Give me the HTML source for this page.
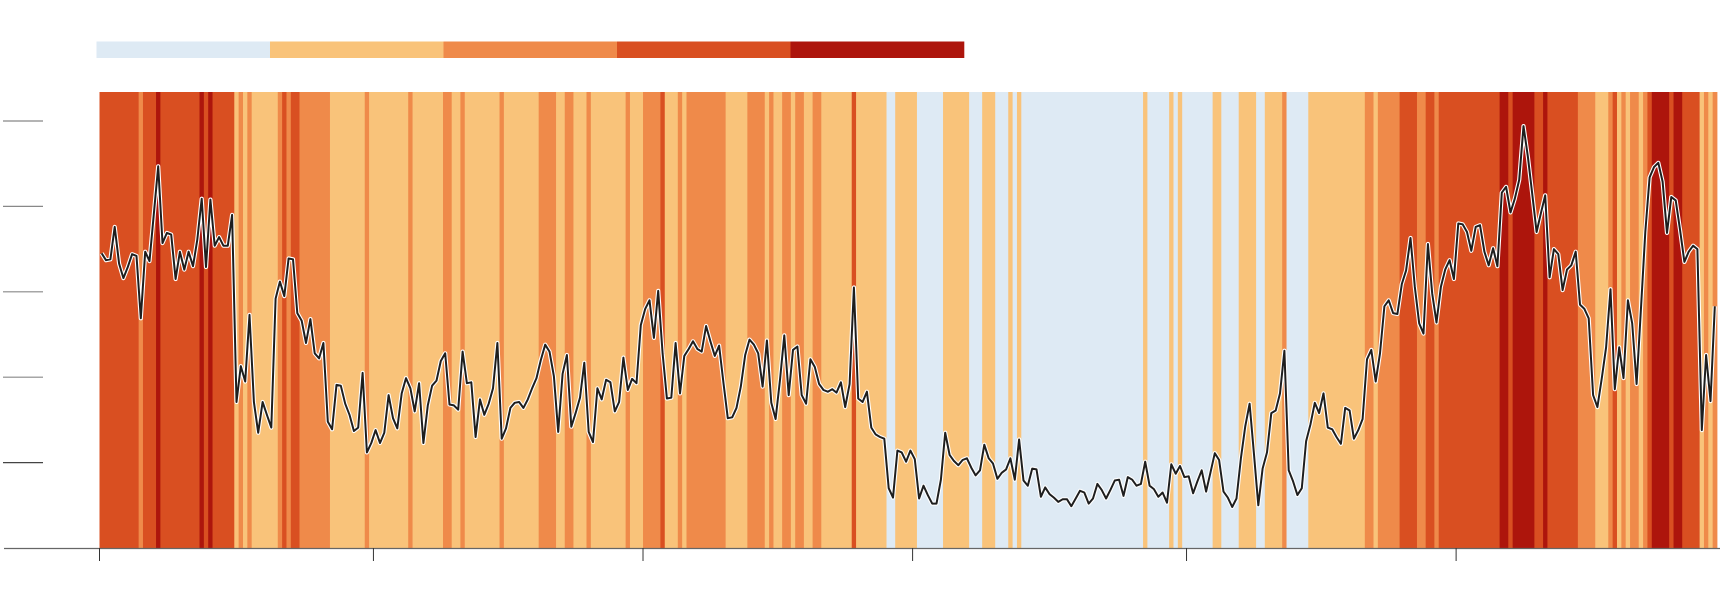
<!DOCTYPE html>
<html><head><meta charset="utf-8"><style>
html,body{margin:0;padding:0;background:#fff;}
svg{display:block;font-family:"Liberation Sans",sans-serif;}
</style></head><body>
<svg id="chart" width="1720" height="608" viewBox="0 0 1720 608" xmlns="http://www.w3.org/2000/svg">
<g id="legend"></g>
<g id="stripes"></g>
<g id="yaxis"></g>
<g id="xaxis"></g>
<g id="series"></g>
</svg>
<script>
const colors = ["#deeaf4","#f9c37a","#ef8a4a","#d94f21","#ad150c"];
const legendCats = [0,1,2,3,4];
const stripeStarts = [0,9,10,13,14,23,24,25,26,31,32,33,34,35,41,42,43,44,46,53,61,62,71,72,79,81,83,84,92,93,101,105,107,109,112,113,121,122,125,129,130,133,134,135,144,149,153,154,155,157,159,160,162,164,166,173,174,181,183,188,194,200,203,206,209,210,211,212,240,241,246,247,248,249,256,258,262,266,268,272,273,278,291,293,294,299,303,305,307,308,322,324,325,330,332,333,340,344,347,348,349,350,351,352,354,355,356,357,361,362,364,368,369,370,371];
const stripeCats = [3,2,3,4,3,4,3,4,3,1,2,1,2,1,2,3,2,3,2,1,2,1,2,1,2,1,2,1,2,1,2,1,2,1,2,1,2,1,2,3,1,2,1,2,1,2,1,2,1,2,1,2,1,2,1,3,1,0,1,0,1,0,1,0,1,0,1,0,1,0,1,0,1,0,1,0,1,0,1,2,0,1,2,1,2,3,2,3,2,3,4,3,4,3,4,3,2,1,2,3,1,2,1,2,1,2,3,4,3,4,3,1,2,1,2];
const values = [
3.45,3.37,3.38,3.76,3.33,3.16,3.29,3.44,3.42,2.69,
3.47,3.36,3.92,4.47,3.57,3.69,3.67,3.15,3.47,3.26,
3.47,3.30,3.61,4.09,3.29,4.08,3.54,3.64,3.54,3.54,
3.90,1.71,2.13,1.95,2.73,1.71,1.35,1.71,1.56,1.41,
2.92,3.12,2.95,3.39,3.38,2.75,2.66,2.40,2.68,2.28,
2.22,2.40,1.48,1.39,1.91,1.90,1.69,1.56,1.37,1.41,
2.05,1.12,1.23,1.38,1.23,1.35,1.79,1.52,1.40,1.81,
1.99,1.87,1.60,1.93,1.23,1.67,1.90,1.96,2.19,2.28,
1.68,
1.67,1.62,2.30,1.93,1.94,1.30,1.74,1.56,1.69,1.87,
2.40,1.28,1.40,1.64,1.70,1.71,1.64,1.74,1.87,1.99,
2.20,2.38,2.30,2.01,1.36,2.04,2.26,1.42,1.58,1.76,
2.17,1.36,1.24,1.87,1.74,1.97,1.94,1.60,1.71,2.23,
1.85,1.98,1.93,2.61,2.80,2.90,2.46,3.01,2.28,1.75,
1.76,2.40,1.81,2.25,2.33,2.42,2.33,2.30,2.60,2.42,
2.25,2.37,1.93,1.52,1.53,1.64,1.89,2.26,2.44,2.38,
2.28,1.89,2.43,1.70,1.51,1.97,2.49,1.79,2.32,2.36,
1.79,1.69,2.21,2.12,1.92,1.85,1.83,
1.86,
1.82,1.94,1.65,1.92,3.05,1.75,1.71,1.83,1.41,1.33,1.30,1.28,
0.70,0.59,1.14,1.12,1.01,1.14,1.04,0.58,0.73,0.62,0.52,0.52,0.80,1.35,1.09,1.02,0.97,1.03,1.05,0.94,0.85,0.91,1.21,1.05,0.99,0.81,0.88,0.92,1.05,0.80,1.27,0.79,0.73,0.93,0.92,0.60,0.71,0.63,0.59,0.54,0.57,0.57,
0.49,0.58,0.67,0.65,0.52,0.58,0.75,0.68,0.58,0.68,0.79,0.80,0.61,0.83,0.80,0.73,0.75,1.01,0.73,0.69,0.60,0.65,0.53,0.98,0.87,0.96,0.83,0.84,0.64,0.78,0.91,0.66,0.88,1.11,1.03,0.66,0.59,0.48,0.58,1.05,1.42,1.69,1.11,0.50,0.93,1.12,1.58,1.61,1.81,
2.31,0.91,0.78,0.62,0.70,1.25,1.45,1.70,1.58,1.81,
1.41,1.39,1.30,1.22,1.64,1.61,1.28,1.38,1.51,2.21,
2.32,1.95,2.28,2.83,2.90,2.75,2.74,3.09,3.25,3.63,
3.06,2.63,2.51,3.56,2.98,2.64,3.06,3.26,3.37,3.15,
3.80,3.79,3.70,3.48,3.76,3.78,3.47,3.31,3.51,3.30,
4.16,4.23,3.93,4.09,4.31,4.94,4.58,4.15,3.70,3.92,
4.13,3.17,3.50,
3.44,3.02,3.26,3.31,3.47,2.85,2.80,2.69,1.79,1.65,
1.99,2.35,3.03,1.86,2.35,1.99,2.90,2.63,1.92,2.79,
3.70,4.34,4.46,4.51,4.29,3.69,4.11,4.07,3.73,3.35,
3.47,3.54,3.50,1.38,2.26,1.72,2.83
];
const yTicks = [1,2,3,4,5];
const xTicks = [0,63,125,187,250,312];

const NS = "http://www.w3.org/2000/svg";
const N = 372, X0 = 99.5, X1 = 1717, TOP = 92, BASE = 548;
const W = (X1 - X0) / N;
function xPos(i){ return X0 + i * W; }
function yPos(v){ return BASE - v * 85.4; }
function mk(tag, attrs, parent){
  const e = document.createElementNS(NS, tag);
  for (const k in attrs) e.setAttribute(k, attrs[k]);
  parent.appendChild(e);
  return e;
}

// legend
const lg = document.getElementById('legend');
const LX0 = 96.5, LX1 = 964;
const lw = (LX1 - LX0) / legendCats.length;
legendCats.forEach((c, k) => {
  const r = mk('rect', {x: LX0 + k*lw, y: 41.5, width: lw + 0.3, height: 16.5, fill: colors[c]}, lg);
  
  
});

// stripes
const sg = document.getElementById('stripes');
stripeStarts.forEach((s, k) => {
  const e = k + 1 < stripeStarts.length ? stripeStarts[k+1] : N;
  const r = mk('rect', {x: xPos(s), y: TOP, width: xPos(e) - xPos(s) + 0.4, height: BASE - TOP, fill: colors[stripeCats[k]]}, sg);
  
  
});

// y axis ticks
const yg = document.getElementById('yaxis');
yTicks.forEach((t, k) => {
  const l = mk('line', {x1: 3, x2: 43, y1: yPos(t), y2: yPos(t), stroke: k === 0 ? '#444' : '#888', 'stroke-width': 1.2}, yg);
  
  
});

// x axis
const xg = document.getElementById('xaxis');
const bl = mk('line', {x1: 4, x2: 1720, y1: BASE + 0.5, y2: BASE + 0.5, stroke: '#666', 'stroke-width': 1.2}, xg);


xTicks.forEach(t => {
  const l = mk('line', {x1: xPos(t), x2: xPos(t), y1: BASE, y2: BASE + 13, stroke: '#333', 'stroke-width': 1}, xg);
  
  
});

// line
const lgp = document.getElementById('series');
const pts = values.map((v, i) => xPos(i + 0.5).toFixed(1) + ',' + yPos(v).toFixed(1)).join(' ');
const halo = mk('polyline', {points: pts, fill: 'none', stroke: '#fff', 'stroke-width': 4.2, 'stroke-linejoin': 'round'}, lgp);


const ln = mk('polyline', {points: pts, fill: 'none', stroke: '#1e1e1e', 'stroke-width': 2, 'stroke-linejoin': 'round'}, lgp);


</script>
</body></html>
